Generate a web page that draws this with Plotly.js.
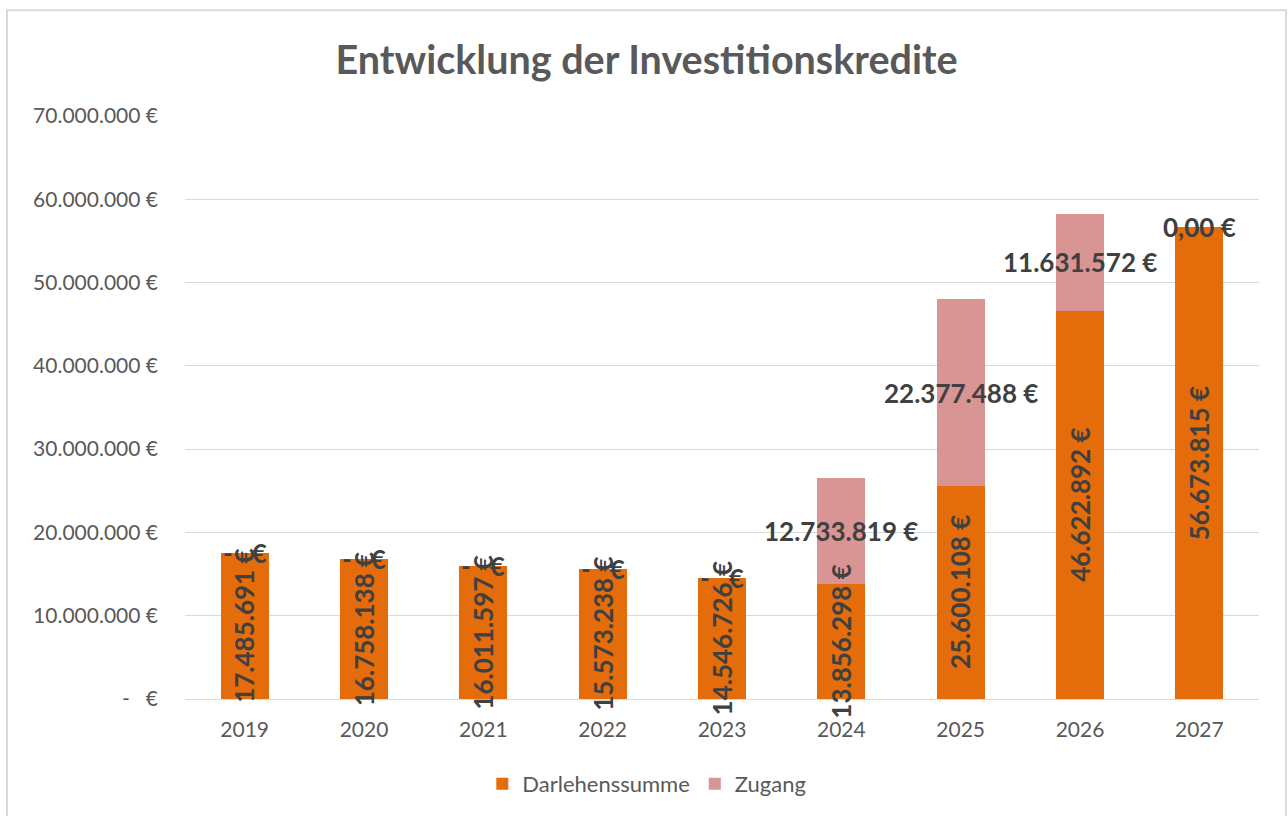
<!DOCTYPE html>
<html>
<head>
<meta charset="utf-8">
<script src="https://cdn.plot.ly/plotly-3.0.1.min.js"></script>
<style>
  html, body { margin: 0; padding: 0; background: #fff; }
  #chart { width: 1288px; height: 816px; }
</style>
</head>
<body>
<div id="chart"></div>
<script>
/* Entwicklung der Investitionskredite — stacked bars, German number format */

const years   = ['2019', '2020', '2021', '2022', '2023', '2024', '2025', '2026', '2027'];
const darlehen = [17485691, 16758138, 16011597, 15573238, 14546726, 13856298, 25600108, 46622892, 56673815];
const zugang   = [0, 0, 0, 0, 0, 12733819, 22377488, 11631572, 0];
const yTicks   = [0, 10000000, 20000000, 30000000, 40000000, 50000000, 60000000, 70000000];

const ORANGE = '#E46C0A';
const PINK   = '#D99594';
const LABEL  = '#404040';
const AXIS   = '#595959';
const GRID   = '#D9D9D9';
const FONT   = 'Lato, "Open Sans", sans-serif';
const NB     = '\u00a0';

/* 17485691 -> "17.485.691 €", 0 -> "-   €" (accounting style) */
function euro(v) {
  if (v === 0) return '-' + NB + NB + NB + '€';
  return Math.round(v).toString().replace(/\B(?=(\d{3})+(?!\d))/g, '.') + ' €';
}

/* last zero value in the Zugang series is shown as "0,00 €" */
const zugangText = zugang.map((v, i) => (v === 0 && i === zugang.length - 1) ? '0,00 €' : euro(v));

/* ---------- plot area geometry (pixels) ---------- */
const M = { l: 185, r: 29, t: 116, b: 116 };
const W = 1288, H = 816;
const PW = W - M.l - M.r, PH = H - M.t - M.b;
const px = x => (x - M.l) / PW;
const py = y => (H - M.b - y) / PH;

const traces = [
  {
    name: 'Darlehenssumme',
    type: 'bar',
    x: years, y: darlehen,
    marker: { color: ORANGE },
    hoverinfo: 'skip',
  },
  {
    name: 'Zugang',
    type: 'bar',
    x: years, y: zugang,
    marker: { color: PINK },
    hoverinfo: 'skip',
  },
];

const labelFont = { family: FONT, size: 26, color: LABEL };

/* annotation x = category index (a year string would be read as index 2019) */
const annotations = [];
darlehen.forEach((d, i) => {
  annotations.push({
    x: i, y: d / 2, xref: 'x', yref: 'y',
    text: '<b>' + euro(d) + '</b>', textangle: -90,
    showarrow: false, font: labelFont,
  });
});
zugang.forEach((z, i) => {
  annotations.push({
    x: i, y: darlehen[i] + z / 2, xref: 'x', yref: 'y',
    text: '<b>' + zugangText[i] + '</b>',
    showarrow: false, font: labelFont,
  });
});

const layout = {
  width: W, height: H,
  paper_bgcolor: '#fff', plot_bgcolor: '#fff',
  margin: M,
  barmode: 'stack',
  bargap: 0.6,
  font: { family: FONT, color: AXIS, size: 21 },
  title: {
    text: '<b>Entwicklung der Investitionskredite</b>',
    font: { family: FONT, size: 39.5, color: AXIS },
    x: 0.502, xanchor: 'center',
    y: 1 - 60 / H, yanchor: 'middle',
  },
  xaxis: {
    type: 'category',
    range: [-0.5, years.length - 0.5],
    showgrid: false, showline: false, zeroline: false,
    ticks: '',
    ticklabelstandoff: 16,
    tickfont: { family: FONT, size: 21, color: AXIS },
  },
  yaxis: {
    range: [0, 70000000],
    tickvals: yTicks,
    ticktext: yTicks.map(euro),
    showgrid: true, gridcolor: GRID, gridwidth: 1,
    zeroline: true, zerolinecolor: GRID, zerolinewidth: 1,
    showline: false, ticks: '',
    ticklabelstandoff: 26,
    tickfont: { family: FONT, size: 21, color: AXIS },
  },
  showlegend: true,
  legend: {
    orientation: 'h',
    x: 0.43, xanchor: 'center',
    y: py(784), yanchor: 'middle',
    font: { family: FONT, size: 22, color: AXIS },
    traceorder: 'normal',
  },
  annotations: annotations,
  shapes: [
    {
      type: 'rect', xref: 'paper', yref: 'paper', layer: 'below',
      x0: px(7), x1: px(1286), y0: py(830), y1: py(10),
      line: { color: GRID, width: 2 }, fillcolor: 'rgba(0,0,0,0)',
    },
  ],
};

Plotly.newPlot('chart', traces, layout, { displayModeBar: false, staticPlot: true });
</script>
</body>
</html>
